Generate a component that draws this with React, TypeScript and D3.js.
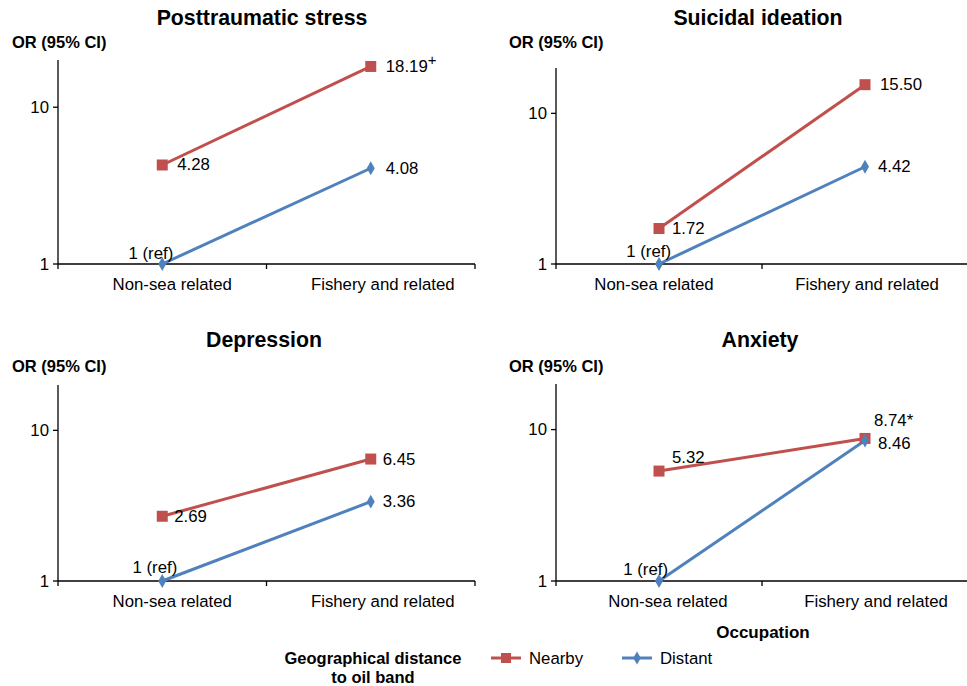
import React from "react";
import * as d3 from "d3";

const titles = ["Posttraumatic stress", "Suicidal ideation", "Depression", "Anxiety"];
const categories = ["Non-sea related", "Fishery and related"];
const nearbyValues = [[4.28, 18.19], [1.72, 15.5], [2.69, 6.45], [5.32, 8.74]];
const distantValues = [[1, 4.08], [1, 4.42], [1, 3.36], [1, 8.46]];
const nearbyLabels = [["4.28", "18.19"], ["1.72", "15.50"], ["2.69", "6.45"], ["5.32", "8.74*"]];
const nearbySup = [["", "+"], ["", ""], ["", ""], ["", ""]];
const distantLabels = [["1 (ref)", "4.08"], ["1 (ref)", "4.42"], ["1 (ref)", "3.36"], ["1 (ref)", "8.46"]];
const yTicks = [1, 10];
const yDomain = [1, 20];
const seriesNames = ["Nearby", "Distant"];

// layout (styling) – not data
const layouts = [
  { x0: 58, x1: 475, yTop: 60, yBot: 264, titleX: 262, titleY: 18, orX: 12, orY: 42, catDx: [10, 12] },
  { x0: 556, x1: 968, yTop: 68, yBot: 264, titleX: 758, titleY: 18, orX: 509, orY: 42, catDx: [-5, 2] },
  { x0: 58, x1: 475, yTop: 385, yBot: 581, titleX: 264, titleY: 340, orX: 12, orY: 366, catDx: [10, 12] },
  { x0: 556, x1: 968, yTop: 384, yBot: 581, titleX: 760, titleY: 340, orX: 509, orY: 366, catDx: [9, 11] },
];
// label offsets [dx, dy, anchor]
type Off = [number, number, string];
const nearbyOff: Off[][] = [
  [[15, 0, "start"], [15, 0, "start"]],
  [[13, 0, "start"], [15, 0, "start"]],
  [[12, 0, "start"], [12, 0, "start"]],
  [[13, -14, "start"], [9, -18, "start"]],
];
const distantOff: Off[][] = [
  [[11, -11, "end"], [15, 0, "start"]],
  [[12, -13, "end"], [13, 0, "start"]],
  [[15, -14, "end"], [12, 0, "start"]],
  [[9, -12, "end"], [13, 3, "start"]],
];

const RED = "#C0504D";
const BLUE = "#4F81BD";
const FONT = "'Liberation Sans', Arial, Helvetica, sans-serif";
const FS = 16.8;

function Panel({ i }: { i: number }) {
  const L = layouts[i];
  const x = d3.scaleBand<string>().domain(categories).range([L.x0, L.x1]);
  const y = d3.scaleLog().domain(yDomain).range([L.yBot, L.yTop]);
  const cx = (c: string) => (x(c) as number) + x.bandwidth() / 2;
  const line = d3
    .line<number>()
    .x((_, k) => cx(categories[k]))
    .y((v) => y(v));
  const boundaries = d3.range(categories.length + 1).map((k) => L.x0 + k * x.step());
  const diamond = d3.symbol().type(d3.symbolDiamond).size(55)();
  return (
    <g>
      <text x={L.titleX} y={L.titleY} textAnchor="middle" dominantBaseline="central" fontSize={21.3} fontWeight="bold">
        {titles[i]}
      </text>
      <text x={L.orX} y={L.orY} dominantBaseline="central" fontSize={16.5} fontWeight="bold">
        OR (95% CI)
      </text>
      <line x1={L.x0} x2={L.x0} y1={L.yTop} y2={L.yBot} stroke="#000" strokeWidth={1.3} />
      <line x1={L.x0} x2={L.x1} y1={L.yBot} y2={L.yBot} stroke="#000" strokeWidth={1.3} />
      {yTicks.map((t) => (
        <g key={t}>
          <line x1={L.x0 - 5} x2={L.x0} y1={y(t)} y2={y(t)} stroke="#000" strokeWidth={1.3} />
          <text x={L.x0 - 9} y={y(t)} textAnchor="end" dominantBaseline="central" fontSize={FS}>
            {t}
          </text>
        </g>
      ))}
      {boundaries.map((b, k) => (
        <line key={k} x1={b} x2={b} y1={L.yBot} y2={L.yBot + 5} stroke="#000" strokeWidth={1.3} />
      ))}
      {categories.map((c, k) => (
        <text key={c} x={cx(c) + L.catDx[k]} y={L.yBot + 20} textAnchor="middle" dominantBaseline="central" fontSize={FS}>
          {c}
        </text>
      ))}
      <path d={line(nearbyValues[i]) || ""} fill="none" stroke={RED} strokeWidth={3} />
      <path d={line(distantValues[i]) || ""} fill="none" stroke={BLUE} strokeWidth={3} />
      {nearbyValues[i].map((v, k) => (
        <rect key={"n" + k} x={cx(categories[k]) - 5.5} y={y(v) - 5.5} width={11} height={11} fill={RED} />
      ))}
      {distantValues[i].map((v, k) => (
        <path key={"d" + k} d={diamond || ""} transform={`translate(${cx(categories[k])},${y(v)})`} fill={BLUE} />
      ))}
      {nearbyValues[i].map((v, k) => {
        const o = nearbyOff[i][k];
        return (
          <text
            key={"nl" + k}
            x={cx(categories[k]) + o[0]}
            y={y(v) + o[1]}
            textAnchor={o[2]}
            dominantBaseline="central"
            fontSize={FS}
          >
            {nearbyLabels[i][k]}
            {nearbySup[i][k] ? (
              <tspan dy={-7} fontSize={15}>
                {nearbySup[i][k]}
              </tspan>
            ) : null}
          </text>
        );
      })}
      {distantValues[i].map((v, k) => {
        const o = distantOff[i][k];
        return (
          <text
            key={"dl" + k}
            x={cx(categories[k]) + o[0]}
            y={y(v) + o[1]}
            textAnchor={o[2]}
            dominantBaseline="central"
            fontSize={FS}
          >
            {distantLabels[i][k]}
          </text>
        );
      })}
    </g>
  );
}

export default function App() {
  const diamond = d3.symbol().type(d3.symbolDiamond).size(50)();
  return (
    <svg
      width={967}
      height={686}
      style={{ position: "absolute", left: 0, top: 0, background: "#fff" }}
      fontFamily={FONT}
      fill="#000"
    >
      {titles.map((_, i) => (
        <Panel key={i} i={i} />
      ))}
      <text x={763} y={632} textAnchor="middle" dominantBaseline="central" fontSize={17} fontWeight="bold">
        Occupation
      </text>
      <text x={373} y={658} textAnchor="middle" dominantBaseline="central" fontSize={16.5} fontWeight="bold">
        Geographical distance
      </text>
      <text x={373} y={677} textAnchor="middle" dominantBaseline="central" fontSize={16.5} fontWeight="bold">
        to oil band
      </text>
      <line x1={491} x2={521} y1={658} y2={658} stroke={RED} strokeWidth={3} />
      <rect x={501} y={653} width={10} height={10} fill={RED} />
      <text x={529} y={658} dominantBaseline="central" fontSize={FS}>
        {seriesNames[0]}
      </text>
      <line x1={622} x2={652} y1={658} y2={658} stroke={BLUE} strokeWidth={3} />
      <path d={diamond || ""} transform="translate(637,658)" fill={BLUE} />
      <text x={660} y={658} dominantBaseline="central" fontSize={FS}>
        {seriesNames[1]}
      </text>
    </svg>
  );
}
